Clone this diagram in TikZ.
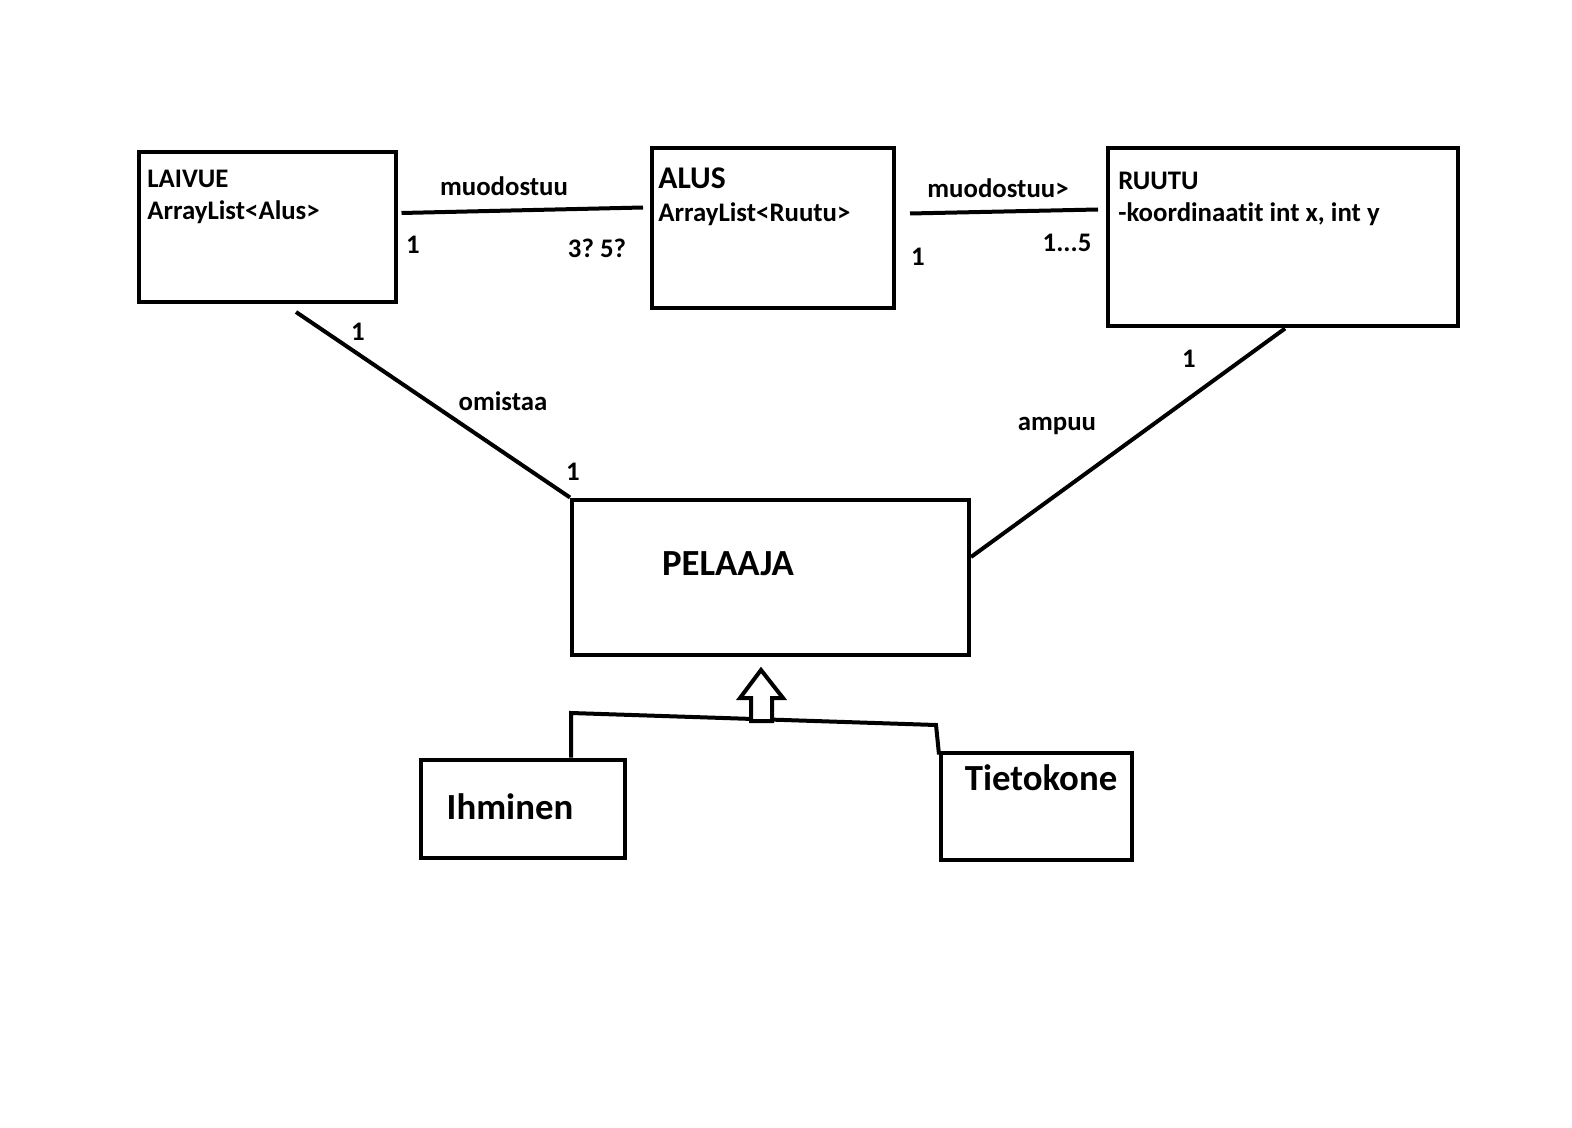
\documentclass[tikz,border=0pt]{standalone}
\usepackage{fontspec}
\setmainfont{Carlito}[Ligatures=NoCommon]
\usetikzlibrary{calc}
\begin{document}
\frenchspacing
\begin{tikzpicture}[x=0.5pt,y=-0.5pt,
  box/.style={draw,line width=2pt,inner sep=0pt},
  conn/.style={line width=2pt},
  lbl/.style={font=\fontsize{13.4}{15}\selectfont\bfseries,inner sep=0pt,anchor=west},
  big/.style={font=\fontsize{18.4}{21}\selectfont\bfseries,inner sep=0pt},
]
\useasboundingbox (0,0) rectangle (1572,1128);
% boxes
\node[box,minimum width=128.5pt,minimum height=75pt] (laivue) at (267,227) {};
\node[box,minimum width=121pt,minimum height=80pt] (alus) at (773,228.5) {};
\node[box,minimum width=175pt,minimum height=89pt] (ruutu) at (1283,237.5) {};
\node[box,minimum width=198.5pt,minimum height=77.5pt] (pelaaja) at (770.5,577) {};
\node[box,minimum width=102pt,minimum height=49pt] (ihminen) at (523,808.5) {};
\node[box,minimum width=95.5pt,minimum height=53.5pt] (tietokone) at (1036.5,806) {};
% box texts
\node[lbl] (t1) at (147,179) {LAIVUE};
\node[lbl] (t2) at (147,212) {ArrayList<Alus>};
\node[lbl,font=\fontsize{15.8}{18}\selectfont\bfseries] (t3) at (658,178) {ALUS};
\node[lbl] (t4) at (658,214) {ArrayList<Ruutu>};
\node[lbl] (t5) at (1118,181) {RUUTU};
\node[lbl] (t6) at (1118,214) {-koordinaatit int x, int y};
\node[big] (t7) at (728,564) {PELAAJA};
\node[big] (t8) at (510,807) {Ihminen};
\node[big] (t9) at (1041,778) {Tietokone};
% connectors
\draw[conn] ([shift={(4,-14)}]laivue.east) -- ([shift={(-7,-21)}]alus.west);
\draw[conn] ([shift={(14,-15)}]alus.east) -- ([shift={(-8,-28)}]ruutu.west);
\draw[conn] ([shift={(29,8)}]laivue.south) -- (pelaaja.north west);
\draw[conn] ([shift={(2,0)}]ruutu.south) -- ([shift={(0,-20)}]pelaaja.east);
% connector labels
\node[lbl,anchor=center] (l1) at (504,186) {muodostuu};
\node[lbl,anchor=center] (l2) at (413,245) {1};
\node[lbl,anchor=center] (l3) at (597,248) {3? 5?};
\node[lbl,anchor=center] (l4) at (998,188) {muodostuu>};
\node[lbl,anchor=center] (l5) at (918,257) {1};
\node[lbl,anchor=center] (l6) at (1067,243) {1...5};
\node[lbl,anchor=center] (l7) at (358,332) {1};
\node[lbl,anchor=center] (l8) at (503,401) {omistaa};
\node[lbl,anchor=center] (l9) at (573,472) {1};
\node[lbl,anchor=center] (l10) at (1189,359) {1};
\node[lbl,anchor=center] (l11) at (1057,426) {ampuu};
% inheritance
\coordinate (j1) at (571,713);
\coordinate (j2) at (936,725);
\draw[conn] (ihminen.north -| j1) -- (j1) -- (j2) -- ([shift={(0,4)}]tietokone.north west);
\draw[line width=2pt,fill=white,line join=miter]
  (761,670) -- (783,698) -- (772,698) -- (772,721) -- (751,721) -- (751,698) -- (740,698) -- cycle;
\end{tikzpicture}
\end{document}
